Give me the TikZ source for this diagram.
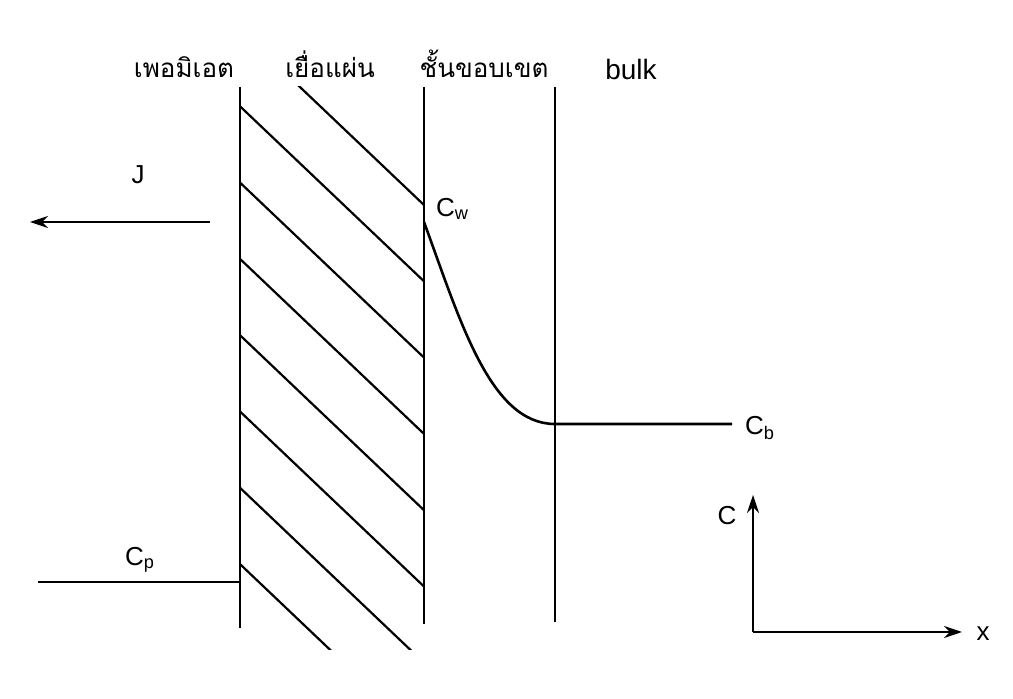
\documentclass[tikz,border=0pt]{standalone}
\usepackage{fontspec}
\setmainfont{Liberation Sans}
\newfontfamily\thaifont[Script=Thai]{Loma}
\usetikzlibrary{arrows.meta}

\begin{document}
\begin{tikzpicture}[
  x=0.5pt, y=-0.5pt,
  wall/.style={line width=1.3pt},
  hatch/.style={line width=1.1pt},
  zone/.style={font=\thaifont\fontsize{13}{15}\selectfont, anchor=base},
  lbl/.style={font=\fontsize{13}{15}\selectfont},
  arr/.style={-{Stealth[length=9pt,width=6pt]}, line width=1pt}
]
\useasboundingbox (0,0) rectangle (1013,699);

\node[zone] (perm) at (184,78) {เพอมิเอต};
\node[zone] (memb) at (330,78) {เยื่อแผ่น};
\node[zone] (layer) at (484,78) {ชั้นขอบเขต};
\node[zone, font=\fontsize{14}{16}\selectfont] (bulk) at (631,80) {bulk};

\coordinate (m1top) at (240,87);
\coordinate (m1bot) at (240,628);
\coordinate (m2top) at (424,87);
\coordinate (m2bot) at (424,624);
\coordinate (b1top) at (555,87);
\coordinate (b1bot) at (555,622);

\draw[wall] (m1top) -- (m1bot);
\draw[wall] (m2top) -- (m2bot);
\draw[wall] (b1top) -- (b1bot);

\begin{scope}
  \clip (240,87) rectangle (424,650);
  \foreach \k in {0,...,7}
    \draw[hatch] (240,{30+76.3*\k}) -- ++(184,175);
\end{scope}

\node[lbl] (j) at (138,175) {J};
\coordinate (jfrom) at (210,222);
\coordinate (jto) at (30,222);
\draw[arr] (jfrom) -- (jto);

\node[lbl, anchor=west] (cw) at (429,209) {C\textsubscript{w}};
\coordinate (cwpt) at (424,222);
\coordinate (cbend) at (732,424);
\node[lbl, anchor=west] (cb) at (738,428) {C\textsubscript{b}};
\draw[wall] (cwpt) .. controls (460,320) and (490,424) .. (555,424) -- (cbend);

\node[lbl] (cp) at (140,560) {C\textsubscript{p}};
\coordinate (cpstart) at (38,582);
\coordinate (cpwall) at (240,582);
\draw[wall] (cpstart) -- (cpwall);

\coordinate (origin) at (753,632);
\coordinate (ctip) at (753,495);
\coordinate (xtip) at (962,632);
\node[lbl] (clabel) at (727,516) {C};
\node[lbl] (xlabel) at (983,634) {x};
\draw[arr] (origin) -- (ctip);
\draw[arr] (origin) -- (xtip);
\end{tikzpicture}
\end{document}
